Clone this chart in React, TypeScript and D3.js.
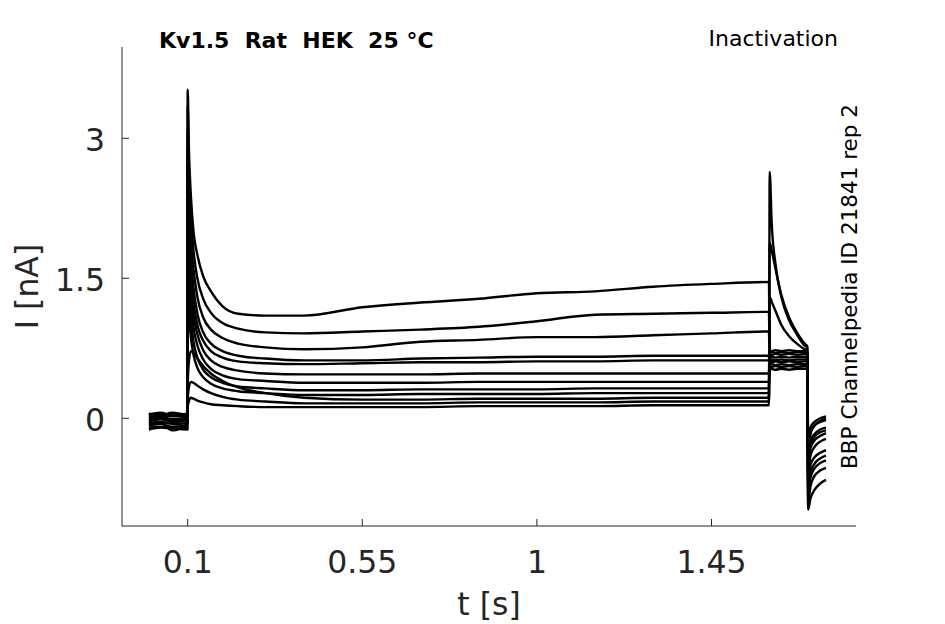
import * as d3 from 'd3';

// sample times (s) for each protocol segment
const baseTimes = [0, 0.03, 0.06, 0.0995];
const stepTimes = [0.1, 0.103, 0.108, 0.115, 0.125, 0.14, 0.16, 0.19, 0.23, 0.3, 0.4, 0.55, 0.7, 0.85, 1.0, 1.15, 1.3, 1.45, 1.598];
const testTimes = [1.6, 1.605, 1.615, 1.63, 1.65, 1.67, 1.69, 1.697];
const tailTimes = [1.699, 1.705, 1.715, 1.73, 1.745];

// current (nA) per sweep, one row per sweep
const baseCurrent = [
  [0.03, 0.05, 0.02, 0.04],
  [-0.02, 0.0, -0.03, -0.01],
  [0.05, 0.03, 0.06, 0.04],
  [-0.08, -0.06, -0.09, -0.07],
  [0.0, 0.02, -0.01, 0.01],
  [-0.05, -0.04, -0.06, -0.05],
  [0.02, 0.0, 0.03, 0.01],
  [-0.1, -0.09, -0.11, -0.1],
  [-0.03, -0.01, -0.04, -0.02],
  [0.04, 0.06, 0.03, 0.05],
  [-0.06, -0.05, -0.13, -0.06],
  [-0.12, -0.1, -0.11, -0.12],
];

const stepCurrent = [
  [3.52, 2.9, 2.4, 2.0, 1.75, 1.52, 1.36, 1.2, 1.12, 1.1, 1.1, 1.19, 1.24, 1.28, 1.34, 1.36, 1.41, 1.44, 1.46],
  [3.35, 2.7, 2.2, 1.8, 1.5, 1.28, 1.13, 1.02, 0.96, 0.92, 0.91, 0.93, 0.95, 0.98, 1.04, 1.11, 1.12, 1.13, 1.14],
  [3.1, 2.5, 1.95, 1.6, 1.3, 1.08, 0.95, 0.86, 0.8, 0.76, 0.74, 0.76, 0.82, 0.84, 0.87, 0.87, 0.89, 0.91, 0.93],
  [2.9, 2.3, 1.75, 1.4, 1.12, 0.92, 0.8, 0.72, 0.67, 0.64, 0.62, 0.62, 0.64, 0.65, 0.66, 0.66, 0.67, 0.67, 0.67],
  [2.7, 2.1, 1.6, 1.25, 1.0, 0.83, 0.72, 0.65, 0.61, 0.59, 0.58, 0.59, 0.6, 0.6, 0.61, 0.61, 0.62, 0.62, 0.62],
  [2.45, 1.9, 1.45, 1.12, 0.9, 0.73, 0.62, 0.55, 0.51, 0.48, 0.47, 0.47, 0.47, 0.48, 0.48, 0.48, 0.48, 0.48, 0.48],
  [2.2, 1.7, 1.28, 0.98, 0.78, 0.63, 0.53, 0.46, 0.42, 0.4, 0.38, 0.38, 0.38, 0.39, 0.39, 0.39, 0.39, 0.39, 0.39],
  [1.9, 1.45, 1.08, 0.82, 0.65, 0.52, 0.44, 0.38, 0.34, 0.32, 0.3, 0.3, 0.31, 0.31, 0.31, 0.32, 0.32, 0.32, 0.32],
  [1.5, 1.15, 0.88, 0.68, 0.54, 0.44, 0.37, 0.32, 0.29, 0.27, 0.25, 0.25, 0.26, 0.26, 0.26, 0.27, 0.27, 0.27, 0.27],
  [0.35, 0.6, 0.72, 0.7, 0.64, 0.56, 0.48, 0.4, 0.33, 0.27, 0.22, 0.2, 0.2, 0.21, 0.21, 0.21, 0.22, 0.22, 0.22],
  [0.2, 0.33, 0.39, 0.38, 0.35, 0.31, 0.27, 0.23, 0.2, 0.18, 0.16, 0.16, 0.16, 0.17, 0.17, 0.17, 0.18, 0.18, 0.18],
  [0.12, 0.18, 0.22, 0.21, 0.19, 0.17, 0.15, 0.14, 0.13, 0.12, 0.12, 0.12, 0.12, 0.13, 0.13, 0.13, 0.14, 0.14, 0.14],
];

const testCurrent = [
  [0.55, 0.55, 0.56, 0.55, 0.56, 0.55, 0.56, 0.56],
  [0.57, 0.58, 0.57, 0.58, 0.57, 0.58, 0.58, 0.58],
  [0.6, 0.6, 0.61, 0.6, 0.61, 0.6, 0.61, 0.61],
  [0.52, 0.53, 0.52, 0.53, 0.52, 0.53, 0.53, 0.53],
  [0.62, 0.63, 0.62, 0.63, 0.62, 0.63, 0.63, 0.63],
  [0.65, 0.66, 0.65, 0.66, 0.65, 0.66, 0.66, 0.66],
  [0.68, 0.68, 0.69, 0.68, 0.69, 0.68, 0.69, 0.69],
  [0.7, 0.71, 0.7, 0.71, 0.7, 0.71, 0.71, 0.71],
  [0.72, 0.72, 0.73, 0.72, 0.73, 0.72, 0.72, 0.72],
  [1.3, 1.25, 1.15, 1.0, 0.88, 0.8, 0.74, 0.73],
  [1.88, 1.8, 1.6, 1.32, 1.08, 0.92, 0.8, 0.77],
  [2.64, 2.1, 1.65, 1.3, 1.05, 0.9, 0.78, 0.76],
];

const tailCurrent = [
  [-0.2, -0.1, -0.04, 0.0, 0.02],
  [-0.25, -0.15, -0.08, -0.04, -0.02],
  [-0.3, -0.17, -0.08, -0.03, 0.0],
  [-0.35, -0.24, -0.17, -0.12, -0.1],
  [-0.4, -0.28, -0.2, -0.15, -0.13],
  [-0.45, -0.32, -0.24, -0.19, -0.16],
  [-0.55, -0.4, -0.31, -0.25, -0.22],
  [-0.62, -0.5, -0.42, -0.37, -0.34],
  [-0.72, -0.58, -0.49, -0.43, -0.4],
  [-0.8, -0.64, -0.54, -0.48, -0.45],
  [-0.9, -0.73, -0.62, -0.56, -0.53],
  [-0.98, -0.86, -0.77, -0.7, -0.66],
];

const xTicks = [0.1, 0.55, 1, 1.45];
const yTicks = [0, 1.5, 3];

const ink = '#262626';
const font = '"DejaVu Sans", Verdana, sans-serif';

export default function App() {
  const width = 945;
  const height = 624;

  const x = d3.scaleLinear().domain([-0.0693, 1.8224]).range([122, 856]);
  const y = d3.scaleLinear().domain([-1.154, 3.978]).range([526, 47]);

  const times = [...baseTimes, ...stepTimes, ...testTimes, ...tailTimes];
  const sweeps = stepCurrent.map((_, i) => {
    const vals = [...baseCurrent[i], ...stepCurrent[i], ...testCurrent[i], ...tailCurrent[i]];
    return times.map((t, j) => [t, vals[j]] as [number, number]);
  });

  const line = d3
    .line<[number, number]>()
    .x((d) => x(d[0]))
    .y((d) => y(d[1]))
    .curve(d3.curveMonotoneX);

  const [x0, x1] = x.range();
  const [y0, y1] = y.range();

  return (
    <svg
      width={width}
      height={height}
      style={{ position: 'absolute', left: 0, top: 0, background: '#fff' }}
      fontFamily={font}
    >
      <rect width={width} height={height} fill="#fff" />

      {/* traces */}
      <g fill="none" stroke="#000" strokeWidth={2.4} strokeLinejoin="round">
        {sweeps.map((s, i) => (
          <path key={i} d={line(s) ?? ''} />
        ))}
      </g>

      {/* axes */}
      <g stroke={ink} strokeWidth={1} fill="none">
        <line x1={x0} x2={x0} y1={y1} y2={y0 + 0.5} />
        <line x1={x0} x2={x1} y1={y0} y2={y0} />
        {xTicks.map((t) => (
          <line key={t} x1={x(t)} x2={x(t)} y1={y0} y2={y0 - 7} />
        ))}
        {yTicks.map((v) => (
          <line key={v} x1={x0} x2={x0 + 7} y1={y(v)} y2={y(v)} />
        ))}
      </g>

      <g fill={ink} fontSize={31.5}>
        {xTicks.map((t) => (
          <text key={t} x={x(t)} y={y0 + 46.7} textAnchor="middle">
            {t}
          </text>
        ))}
        {yTicks.map((v) => (
          <text key={v} x={105} y={y(v) + 13} textAnchor="end">
            {v}
          </text>
        ))}
        <text x={(x0 + x1) / 2} y={615} textAnchor="middle">
          t [s]
        </text>
        <text transform={`translate(37.5,${(y0 + y1) / 2}) rotate(-90)`} textAnchor="middle">
          I [nA]
        </text>
      </g>

      <text
        x={159}
        y={47.5}
        fontSize={22}
        fontWeight="bold"
        fill="#000"
        xmlSpace="preserve"
        style={{ whiteSpace: 'pre' }}
      >
        Kv1.5  Rat  HEK  25 °C
      </text>
      <text x={838} y={46} fontSize={22} fill="#000" textAnchor="end">
        Inactivation
      </text>
      <text
        transform={`translate(857,${(y0 + y1) / 2}) rotate(-90)`}
        fontSize={21.5}
        fill="#000"
        textAnchor="middle"
      >
        BBP Channelpedia ID 21841 rep 2
      </text>
    </svg>
  );
}
